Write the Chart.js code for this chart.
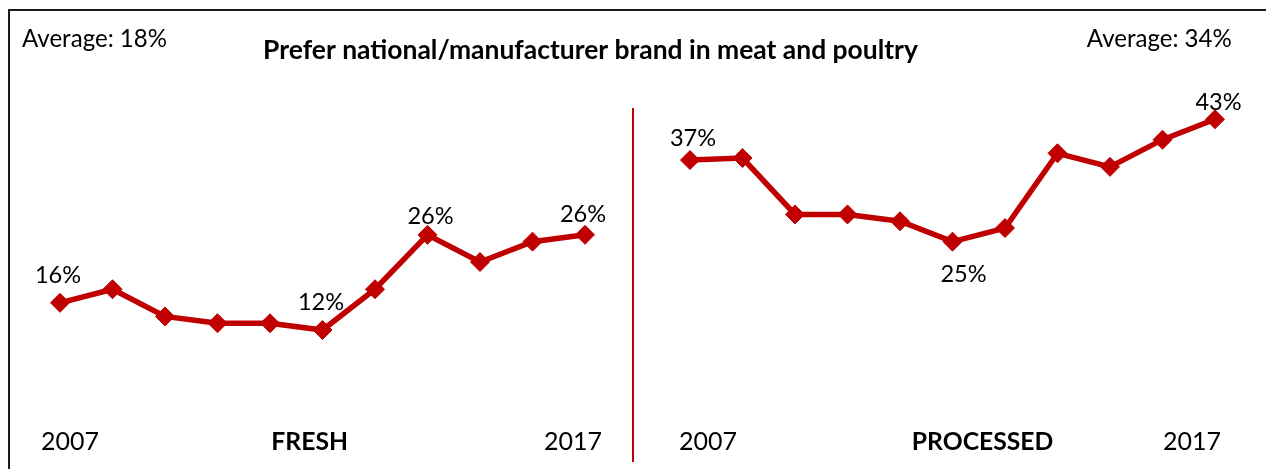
<!DOCTYPE html>
<html>
<head>
<meta charset="utf-8">
<script src="https://cdn.jsdelivr.net/npm/chart.js@4/dist/chart.umd.min.js"></script>
<style>
  html, body { margin: 0; padding: 0; background: #fff; }
  #wrap { width: 1266px; height: 469px; position: relative; }
  canvas { display: block; }
</style>
</head>
<body>
<div id="wrap"><canvas id="c" width="1266" height="469"></canvas></div>
<script>
// ---- data ----
const years = ['2007','2008','2009','2010','2011','2012','2013','2014','2015','2016','2017'];
const fresh = [16, 18, 14, 13, 13, 12, 18, 26, 22, 25, 26];
const processed = [37, 37.3, 29, 29, 28, 25, 27, 38, 36, 40, 43];
const freshAverage = 18;
const processedAverage = 34;
const title = 'Prefer national/manufacturer brand in meat and poultry';
const panelNames = ['FRESH', 'PROCESSED'];
const freshLabeled = [0, 5, 7, 10];
const processedLabeled = [0, 5, 10];

// ---- build chart structures ----
const gap = 1;
const labels = years.concat(new Array(gap).fill(''), years);
const freshData = fresh.concat(new Array(gap + years.length).fill(null));
const processedData = new Array(years.length + gap).fill(null).concat(processed);

const RED = '#C00000';
const FAMILY = 'Lato, "Open Sans", "Liberation Sans", sans-serif';

function fitSize(ctx, text, width, weight) {
  ctx.font = weight + ' 100px ' + FAMILY;
  return 100 * width / ctx.measureText(text).width;
}

const overlay = {
  id: 'overlay',
  beforeDraw(chart) {
    const ctx = chart.ctx;
    ctx.save();
    ctx.fillStyle = '#fff';
    ctx.fillRect(0, 0, chart.width, chart.height);
    ctx.restore();
  },
  afterDraw(chart) {
    const ctx = chart.ctx;
    ctx.save();
    // frame (top and left)
    ctx.fillStyle = '#1a1a1a';
    ctx.fillRect(8, 9, chart.width - 8, 2);
    ctx.fillRect(8, 9, 2, chart.height - 9);
    // divider
    ctx.fillStyle = RED;
    ctx.fillRect(632, 108, 2, 354);

    ctx.fillStyle = '#000';
    ctx.textAlign = 'center';
    ctx.textBaseline = 'alphabetic';

    // sizes
    const sNorm = fitSize(ctx, 'Average: 18%', 145, 'normal');
    const sTitle = fitSize(ctx, title, 655, 'bold');
    const sBottom = fitSize(ctx, '2007', 58, 'normal');
    const sBottomB = fitSize(ctx, 'PROCESSED', 141.6, 'bold');

    ctx.font = 'normal ' + sNorm + 'px ' + FAMILY;
    ctx.fillText('Average: ' + freshAverage + '%', 94.5, 46.7);
    ctx.fillText('Average: ' + processedAverage + '%', 1159.3, 46.7);

    ctx.font = 'bold ' + sTitle + 'px ' + FAMILY;
    ctx.fillText(title, 590.5, 59.3);

    ctx.font = 'normal ' + sBottom + 'px ' + FAMILY;
    ctx.fillText(years[0], 70, 450);
    ctx.fillText(years[years.length - 1], 573, 450);
    ctx.fillText(years[0], 708, 450);
    ctx.fillText(years[years.length - 1], 1192, 450);

    ctx.font = 'bold ' + sBottomB + 'px ' + FAMILY;
    ctx.fillText(panelNames[0], 309.7, 450);
    ctx.fillText(panelNames[1], 982.5, 450);

    // data labels attached to points
    ctx.font = 'normal ' + (sNorm * 0.98) + 'px ' + FAMILY;
    const fOff = {0: [-2, -19.7], 5: [-1.5, -20], 7: [3, -11], 10: [-2, -13]};
    const pOff = {0: [3, -13.7], 5: [11, 40], 10: [3.5, -9.3]};
    const m0 = chart.getDatasetMeta(0), m1 = chart.getDatasetMeta(1);
    freshLabeled.forEach(i => {
      const el = m0.data[i];
      const o = fOff[i];
      ctx.fillText(Math.round(fresh[i]) + '%', el.x + o[0], el.y + o[1]);
    });
    processedLabeled.forEach(i => {
      const el = m1.data[years.length + gap + i];
      const o = pOff[i];
      ctx.fillText(Math.round(processed[i]) + '%', el.x + o[0], el.y + o[1]);
    });
    ctx.restore();
  }
};

const dsStyle = {
  borderColor: RED,
  backgroundColor: RED,
  borderWidth: 5.5,
  pointStyle: 'rectRot',
  pointRadius: 9.5,
  pointBorderWidth: 1,
  pointBorderColor: RED,
  pointBackgroundColor: RED,
  tension: 0,
  spanGaps: false,
  clip: false
};

new Chart(document.getElementById('c'), {
  type: 'line',
  data: {
    labels: labels,
    datasets: [
      Object.assign({ label: 'Fresh', data: freshData }, dsStyle),
      Object.assign({ label: 'Processed', data: processedData }, dsStyle)
    ]
  },
  options: {
    responsive: false,
    animation: false,
    layout: { padding: { left: 60, right: 51, top: 71.7, bottom: 57.4 } },
    plugins: { legend: { display: false }, tooltip: { enabled: false }, title: { display: false } },
    scales: {
      x: { type: 'category', display: false, offset: false },
      y: { display: false, min: 0, max: 50 }
    }
  },
  plugins: [overlay]
});
</script>
</body>
</html>
